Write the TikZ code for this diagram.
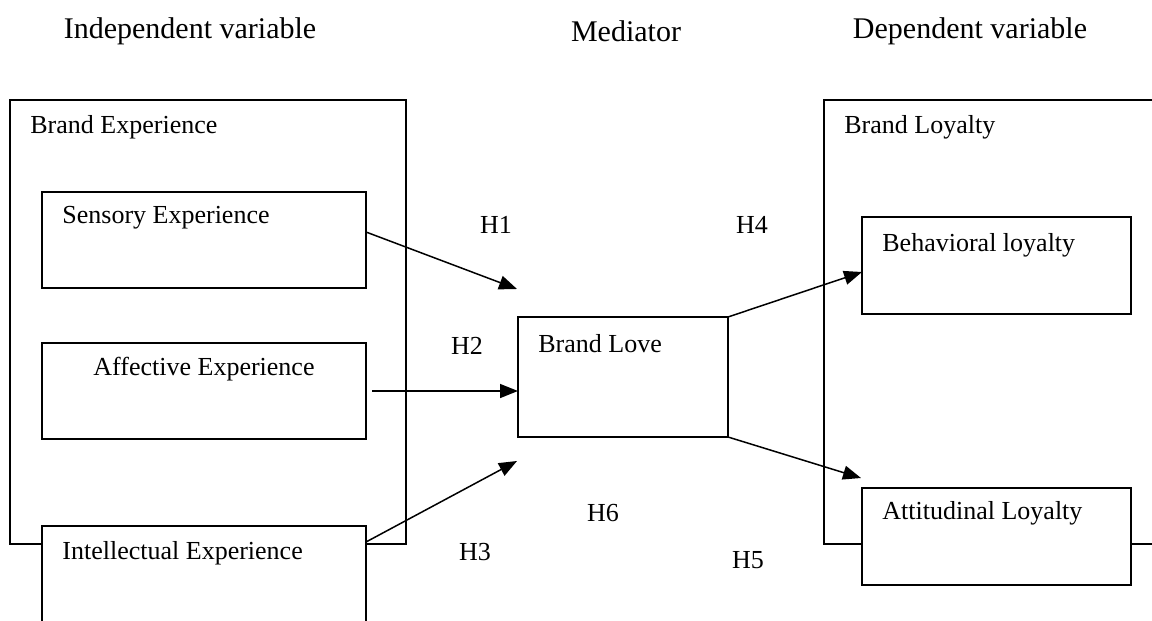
\documentclass[tikz,border=0pt]{standalone}
\usepackage{fontspec}
\setmainfont{Liberation Serif}
\usetikzlibrary{arrows.meta}
\tikzset{
  box/.style={draw, line width=0.75pt, fill=white, inner sep=0pt, outer sep=0pt},
  boxtext/.style={font=\fontsize{13}{15}\selectfont, inner sep=0pt},
  hyp/.style={font=\fontsize{13}{15}\selectfont, inner sep=0pt},
  head/.style={font=\fontsize{15}{18}\selectfont, inner sep=0pt},
  link/.style={line width=0.75pt, -{Triangle[length=9pt,width=7pt]}}
}
\begin{document}
\begin{tikzpicture}[x=0.5pt,y=-0.5pt]
\useasboundingbox (0,0) rectangle (1152,621);
\node[head] (ind) at (190,31) {Independent variable};
\node[head] (med) at (626,31) {Mediator};
\node[head] (dep) at (970,31) {Dependent variable};
\node[box, minimum width=198pt, minimum height=222pt,
  label={[boxtext, anchor=west, xshift=10pt, yshift=-13.5pt]north west:Brand Experience}] (bexp) at (208,322) {};
\node[box, minimum width=183pt, minimum height=222pt,
  label={[boxtext, anchor=west, xshift=10pt, yshift=-13.5pt]north west:Brand Loyalty}] (bloy) at (1007,322) {};
\node[box, minimum width=162pt, minimum height=48pt,
  label={[boxtext, anchor=west, xshift=10pt, yshift=-13pt]north west:Sensory Experience}] (sens) at (204,240) {};
\node[box, minimum width=162pt, minimum height=48pt,
  label={[boxtext, anchor=center, yshift=-13pt]north:Affective Experience}] (aff) at (204,391) {};
\node[box, minimum width=162pt, minimum height=48pt,
  label={[boxtext, anchor=west, xshift=10pt, yshift=-13.5pt]north west:Intellectual Experience}] (intel) at (204,574) {};
\node[box, minimum width=105pt, minimum height=60pt,
  label={[boxtext, anchor=west, xshift=10pt, yshift=-13.5pt]north west:Brand Love}] (blove) at (623,377) {};
\node[box, minimum width=134.5pt, minimum height=48.5pt,
  label={[boxtext, anchor=west, xshift=10pt, yshift=-14pt]north west:Behavioral loyalty}] (behav) at (996.5,265.5) {};
\node[box, minimum width=134.5pt, minimum height=48.5pt,
  label={[boxtext, anchor=west, xshift=10pt, yshift=-12.5pt]north west:Attitudinal Loyalty}] (attit) at (996.5,536.5) {};
\coordinate (t1) at (517,289);
\coordinate (t3) at (517,461);
\coordinate (t5) at (861,478);
\draw[link] ([yshift=4pt]sens.east) -- (t1);
\draw[link] ([xshift=3pt]aff.east) -- ([yshift=-7pt]blove.west);
\draw[link] ([yshift=-8pt]intel.north east) -- (t3);
\draw[link] (blove.north east) -- ([yshift=-3.25pt]behav.west);
\draw[link] (blove.south east) -- (t5);
\node[hyp] (h1) at (496,225) {H1};
\node[hyp] (h2) at (467,346) {H2};
\node[hyp] (h3) at (475,552) {H3};
\node[hyp] (h4) at (752,225) {H4};
\node[hyp] (h5) at (748,560) {H5};
\node[hyp] (h6) at (603,513) {H6};
\end{tikzpicture}
\end{document}
